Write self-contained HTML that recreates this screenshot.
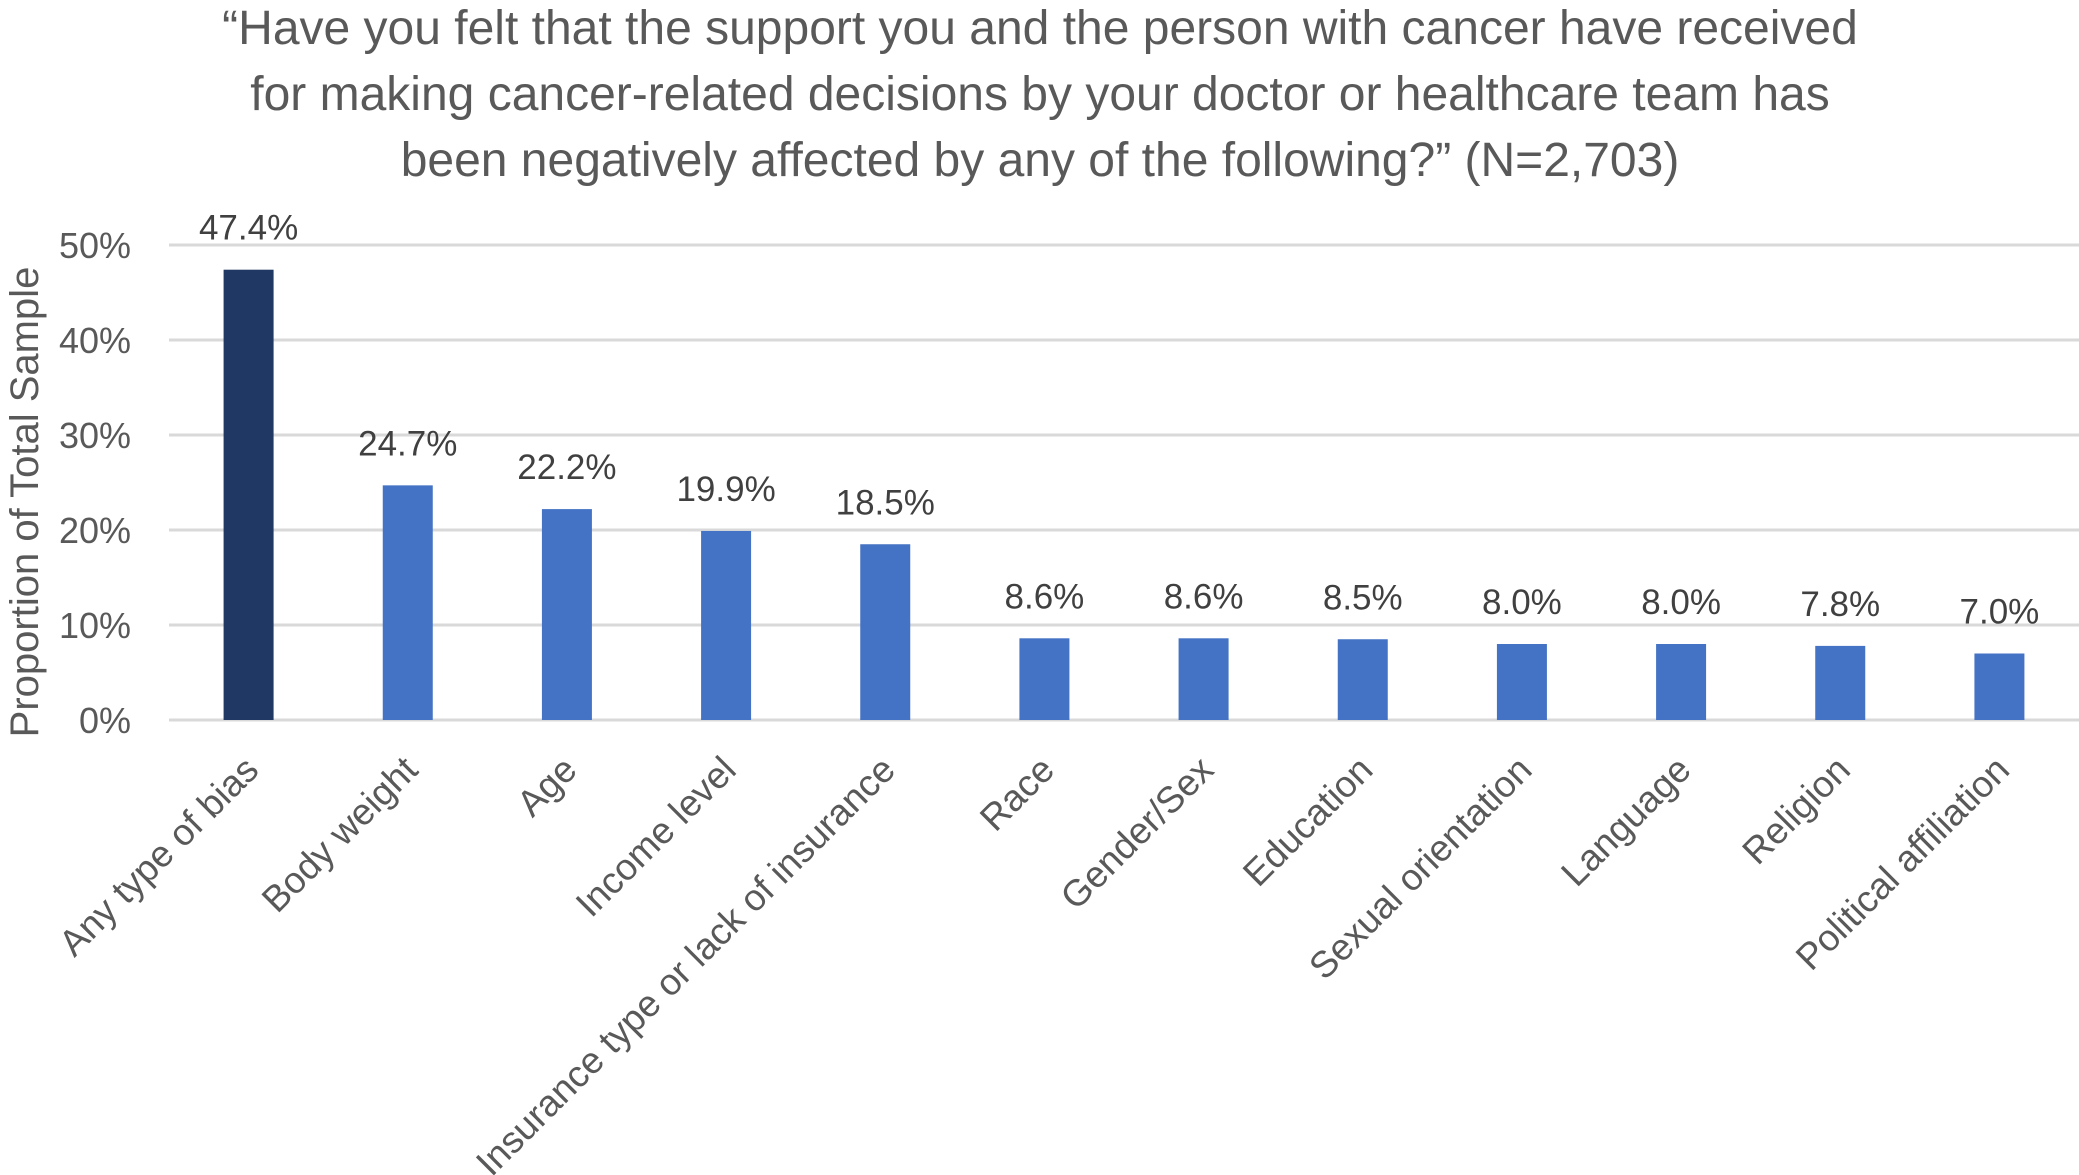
<!DOCTYPE html>
<html><head><meta charset="utf-8"><style>
html,body{margin:0;padding:0;background:#fff;}
svg{display:block;font-family:"Liberation Sans",Calibri,sans-serif;}
</style></head><body>
<svg id="chart" width="2079" height="1175" viewBox="0 0 2079 1175">
<g fill="#595959" font-size="48" text-anchor="middle">
<text x="1040" y="44">“Have you felt that the support you and the person with cancer have received</text>
<text x="1040" y="110">for making cancer-related decisions by your doctor or healthcare team has</text>
<text x="1040" y="176">been negatively affected by any of the following?” (N=2,703)</text>
</g>
<text transform="translate(38,502) rotate(-90)" text-anchor="middle" font-size="40" fill="#595959">Proportion of Total Sample</text>
<g id="grid"></g><g id="yticks"></g><g id="bars"></g><g id="labels"></g><g id="cats"></g>
</svg>
<script>
const categories=["Any type of bias","Body weight","Age","Income level","Insurance type or lack of insurance","Race","Gender/Sex","Education","Sexual orientation","Language","Religion","Political affiliation"];
const values=[47.4,24.7,22.2,19.9,18.5,8.6,8.6,8.5,8.0,8.0,7.8,7.0];
const valueLabels=["47.4%","24.7%","22.2%","19.9%","18.5%","8.6%","8.6%","8.5%","8.0%","8.0%","7.8%","7.0%"];
const yTicks=[0,10,20,30,40,50];
const yTickLabels=["0%","10%","20%","30%","40%","50%"];
const NS="http://www.w3.org/2000/svg";
const plotL=169,plotR=2079,y0=720,y50=245;
const y=v=>y0-(v/50)*(y0-y50);
const band=(plotR-plotL)/categories.length;
const xc=i=>plotL+band*(i+0.5);
const bw=50;
function mk(t,a,p){const e=document.createElementNS(NS,t);for(const k in a)e.setAttribute(k,a[k]);p.appendChild(e);return e;}
const grid=document.getElementById('grid'),yt=document.getElementById('yticks'),bars=document.getElementById('bars'),lab=document.getElementById('labels'),cats=document.getElementById('cats');
yTicks.forEach((t,i)=>{
 const l=mk('line',{x1:plotL,x2:plotR,y1:y(t),y2:y(t),stroke:'#d9d9d9','stroke-width':3},grid);
 
 
 const tx=mk('text',{x:131,y:y(t)+13,'text-anchor':'end','font-size':36,fill:'#595959'},yt);
 tx.textContent=yTickLabels[i];
 
 
});
values.forEach((v,i)=>{
 const r=mk('rect',{x:xc(i)-bw/2,y:y(v),width:bw,height:y0-y(v),fill:i===0?'#203864':'#4472c4'},bars);
 
 
 const t=mk('text',{x:xc(i),y:y(v)-30,'text-anchor':'middle','font-size':35,fill:'#404040'},lab);
 t.textContent=valueLabels[i];
 
 
 const c=mk('text',{transform:`translate(${xc(i)+12},${y0+52}) rotate(-45)`,'text-anchor':'end','font-size':37,fill:'#595959'},cats);
 c.textContent=categories[i];
 
 
});
</script>
</body></html>
